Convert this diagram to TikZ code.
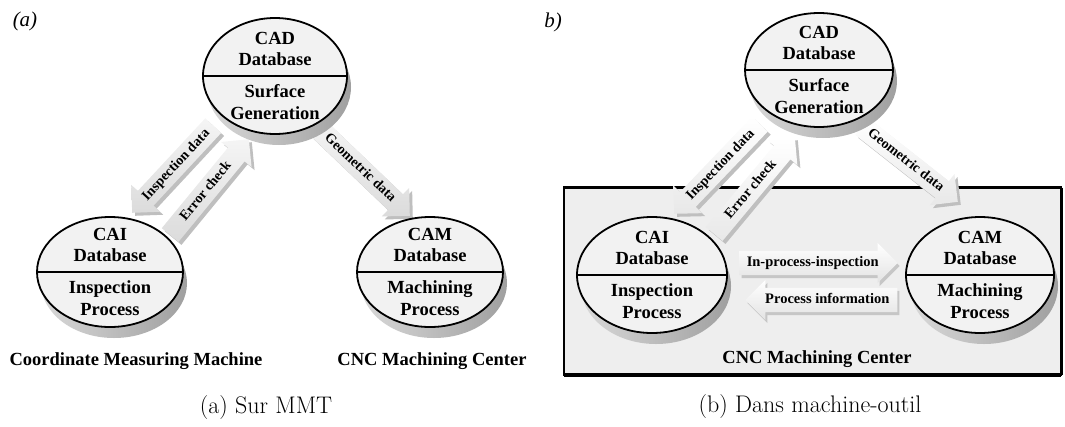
\documentclass[tikz,border=0pt]{standalone}
\usepackage{fontspec}
\newfontfamily\lab{Liberation Serif}
\usetikzlibrary{shapes.geometric,shapes.arrows,calc}
\newcommand\dbunit[7]{%
  \node[discside, minimum width={2*#4pt}, minimum height={2*#5pt}] (#1s) at (#2+4,#3+11) {};
  \node[discface, minimum width={2*#4pt}, minimum height={2*#5pt}] (#1) at (#2,#3) {};
  \draw[line width=1.3pt] (#1.west) -- (#1.east);
  \node[dbtext] (#1t) at (#2,#3-27) {#6};
  \node[dbtext] (#1b) at (#2,#3+26) {#7};
}
\begin{document}
\begin{tikzpicture}[x=1pt,y=-1pt,
  discface/.style={ellipse, draw=black, line width=1.8pt, fill=gray!10, inner sep=0pt, outer sep=0pt},
  discside/.style={ellipse, inner sep=0pt, outer sep=0pt, draw=none, left color=gray!30, right color=gray!75},
  dbtext/.style={font=\lab\bfseries\fontsize{18.5}{21.5}\selectfont, align=center, inner sep=0pt},
  blk/.style={single arrow, single arrow head extend=9pt, single arrow tip angle=90,
    anchor=tip, inner xsep=2pt, inner ysep=4pt, text height=10pt, text depth=3.2pt,
    font=\lab\bfseries\fontsize{14}{16}\selectfont, draw=none},
  blkface/.style={blk, top color=gray!8, bottom color=gray!28},
  blkshadow/.style={blk, fill=gray!50},
  hblk/.style={single arrow, single arrow head extend=8pt, single arrow tip angle=90,
    anchor=tip, inner xsep=2pt, inner ysep=5pt, text height=10.5pt, text depth=3.2pt,
    font=\lab\bfseries\fontsize{14.5}{16}\selectfont, draw=none},
  hblkface/.style={hblk, top color=white, bottom color=gray!22},
  hblkshadow/.style={hblk, fill=gray!45},
  bottomlabel/.style={font=\lab\bfseries\fontsize{18.5}{21}\selectfont, inner sep=0pt},
  caption/.style={font=\fontsize{24}{28}\selectfont, inner sep=0pt},
  panel/.style={font=\lab\itshape\fontsize{21}{23}\selectfont, inner sep=0pt}
]
\useasboundingbox (0,0) rectangle (1065,426);

% ---------- panel labels ----------
\node[panel] (pa) at (25,21) {(a)};
\node[panel] (pb) at (553,22) {b)};

% ---------- (b) box ----------
\node[rectangle, draw=black, line width=2.2pt, fill=gray!13, inner sep=0pt, outer sep=0pt,
  minimum width=497pt, minimum height=187pt] (box) at (812.5,281) {};
\draw[line width=4pt] (box.south west) -- (box.south east);
\draw[line width=3pt] (box.north east) -- (box.south east);

% ---------- (a) arrows ----------
\node[blkshadow, shape border rotate=180, rotate=47.1, minimum height=119pt] (ia-s) at (135,216) {};
\node[blkface, shape border rotate=180, rotate=47.1, minimum height=119pt] (ia) at (132,213) {Inspection data};
\node[blkshadow, rotate=50.6, minimum height=124pt] (ea-s) at (252,142) {};
\node[blkface, rotate=50.6, minimum height=124pt] (ea) at (249,139) {Error check};
\node[blkshadow, rotate=-43.7, minimum height=127pt] (ga-s) at (413,219) {};
\node[blkface, rotate=-43.7, minimum height=127pt] (ga) at (410,216) {Geometric data};

% ---------- (b) arrows ----------
\node[blkshadow, shape border rotate=180, rotate=46.3, minimum height=124pt] (ib-s) at (677,217) {};
\node[blkface, top color=white, bottom color=gray!18, shape border rotate=180, rotate=46.3, minimum height=124pt] (ib) at (674,214) {Inspection data};
\node[blkshadow, rotate=50.2, minimum height=126pt] (eb-s) at (798,140) {};
\node[blkface, top color=white, bottom color=gray!18, rotate=50.2, minimum height=126pt] (eb) at (795,137) {Error check};
\node[blkshadow, rotate=-38.2, minimum height=122pt] (gb-s) at (961,205) {};
\node[blkface, top color=white, bottom color=gray!18, rotate=-38.2, minimum height=122pt] (gb) at (958,202) {Geometric data};

\node[hblkshadow, minimum height=158pt] (ipi-s) at (900,266) {};
\node[hblkface, minimum height=158pt] (ipi) at (898,263) {In-process-inspection};
\node[hblkshadow, shape border rotate=180, minimum height=152pt] (pin-s) at (747,303) {};
\node[hblkface, shape border rotate=180, minimum height=152pt] (pin) at (745,300) {Process information};

% ---------- databases ----------
\dbunit{cadA}{275}{76}{72}{58}{CAD\\Database}{Surface\\Generation}
\dbunit{caiA}{110}{272}{73}{55}{CAI\\Database}{Inspection\\Process}
\dbunit{camA}{430}{272}{73}{55}{CAM\\Database}{Machining\\Process}
\dbunit{cadB}{819}{70}{74}{57}{CAD\\Database}{Surface\\Generation}
\dbunit{caiB}{652}{275}{75}{58}{CAI\\Database}{Inspection\\Process}
\dbunit{camB}{980}{275}{74}{58}{CAM\\Database}{Machining\\Process}

% ---------- labels ----------
\node[bottomlabel] (cmm) at (136,361) {Coordinate Measuring Machine};
\node[bottomlabel] (cncA) at (432,361) {CNC Machining Center};
\node[bottomlabel] (cncB) at (817,359) {CNC Machining Center};

\node[caption] (capA) at (266,408) {(a) Sur MMT};
\node[caption] (capB) at (810,407) {(b) Dans machine-outil};
\end{tikzpicture}
\end{document}
